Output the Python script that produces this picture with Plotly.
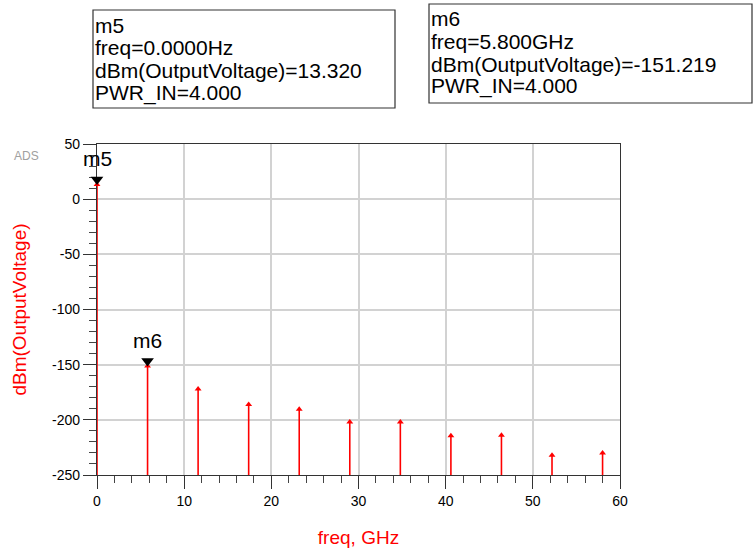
import plotly.graph_objects as go

# ---------------- data ----------------
freq_ghz = [0.0, 5.8, 11.6, 17.4, 23.2, 29.0, 34.8, 40.6, 46.4, 52.2, 58.0]
dbm_output = [13.320, -151.219, -172.0, -186.0, -190.5, -202.0, -202.0, -214.5, -214.0, -232.0, -230.0]

marker_names = ["m5", "m6"]
marker_index = [0, 1]
marker_box_lines = [
    ["m5", "freq=0.0000Hz", "dBm(OutputVoltage)=13.320", "PWR_IN=4.000"],
    ["m6", "freq=5.800GHz", "dBm(OutputVoltage)=-151.219", "PWR_IN=4.000"],
]

x_tick_vals = [0, 10, 20, 30, 40, 50, 60]
x_tick_text = ["0", "10", "20", "30", "40", "50", "60"]
y_tick_vals = [-250, -200, -150, -100, -50, 0, 50]
y_tick_text = ["-250", "-200", "-150", "-100", "-50", "0", "50"]
x_range = [0, 60]
y_range = [-250, 50]

# ---------------- layout geometry (pixels) ----------------
W, H = 753, 548
PL, PR, PT, PB = 97, 620, 144, 475
FONT = "Liberation Sans, Arial, sans-serif"
RED = "#ff0000"


def pxx(px):
    return (px - PL) / (PR - PL)


def pxy(py):
    return (PB - py) / (PB - PT)


fig = go.Figure()

# stems from the bottom of the y-axis to each value
xs, ys = [], []
for f, v in zip(freq_ghz, dbm_output):
    xs += [f, f, None]
    ys += [y_range[0], v, None]
fig.add_trace(go.Scatter(x=xs, y=ys, mode="lines", line=dict(color=RED, width=1.6),
                         hoverinfo="skip", cliponaxis=False, showlegend=False))

# small tip markers
fig.add_trace(go.Scatter(x=freq_ghz, y=dbm_output, mode="markers",
                         marker=dict(symbol="triangle-up", size=6, color=RED),
                         cliponaxis=False, showlegend=False))

# marker triangles (m5, m6), tip sitting on the data point
tri_offset = 4.5  # dB, about half the triangle height
fig.add_trace(go.Scatter(
    x=[freq_ghz[i] for i in marker_index],
    y=[dbm_output[i] + tri_offset for i in marker_index],
    mode="markers",
    marker=dict(symbol="triangle-down", size=11, color="black"),
    cliponaxis=False, showlegend=False))

annotations = []
for name, i in zip(marker_names, marker_index):
    annotations.append(dict(x=freq_ghz[i], y=dbm_output[i], xref="x", yref="y",
                            text=name, showarrow=False, xanchor="center", yanchor="bottom",
                            yshift=12, font=dict(family=FONT, size=21, color="black")))

# marker readout boxes
box_px = [(93, 395, 10, 108), (429, 752, 4, 103)]
line_centers = [[25, 47.5, 70, 92.5], [19, 41.5, 64, 86.5]]
shapes = []
for (x0, x1, y0, y1), lines, centers in zip(box_px, marker_box_lines, line_centers):
    shapes.append(dict(type="rect", xref="paper", yref="paper",
                       x0=pxx(x0), x1=pxx(x1), y0=pxy(y0), y1=pxy(y1),
                       line=dict(color="#333333", width=1.2), fillcolor="white", layer="above"))
    for txt, cy in zip(lines, centers):
        annotations.append(dict(x=pxx(x0 + 1), y=pxy(cy), xref="paper", yref="paper",
                                text=txt, showarrow=False, xanchor="left", yanchor="middle",
                                borderpad=0,
                                font=dict(family=FONT, size=21, color="black")))

# "ADS" watermark
annotations.append(dict(x=pxx(26), y=pxy(156), xref="paper", yref="paper", text="ADS",
                        showarrow=False, xanchor="center", yanchor="middle",
                        font=dict(family=FONT, size=12, color="#a0a0a0")))

axis_common = dict(
    showline=True, linecolor="#333333", linewidth=1.3, mirror=True,
    showgrid=True, gridcolor="#d2d2d2", gridwidth=1.5,
    zeroline=False,
    ticks="outside", ticklen=13, tickwidth=1.3, tickcolor="#333333",
    tickfont=dict(family=FONT, size=14, color="black"),
    layer="below traces",
)

fig.update_xaxes(range=x_range, tickmode="array", tickvals=x_tick_vals, ticktext=x_tick_text,
                 minor=dict(dtick=2, ticks="outside", ticklen=7, tickwidth=1.2,
                            tickcolor="#444444", showgrid=False),
                 title=dict(text="freq, GHz", font=dict(family=FONT, size=19, color=RED), standoff=22),
                 **axis_common)
fig.update_yaxes(range=y_range, tickmode="array", tickvals=y_tick_vals, ticktext=y_tick_text,
                 minor=dict(dtick=10, ticks="outside", ticklen=7, tickwidth=1.2,
                            tickcolor="#444444", showgrid=False),
                 title=dict(text="dBm(OutputVoltage)", font=dict(family=FONT, size=19, color=RED), standoff=20),
                 **axis_common)

fig.update_layout(
    width=W, height=H,
    margin=dict(l=PL, r=W - PR, t=PT, b=H - PB, autoexpand=False),
    paper_bgcolor="white", plot_bgcolor="white",
    showlegend=False,
    shapes=shapes, annotations=annotations,
    font=dict(family=FONT),
)

fig.write_html("out.html", config={"displayModeBar": False},
               post_script="document.body.style.margin='0px';document.body.style.padding='0px';")
